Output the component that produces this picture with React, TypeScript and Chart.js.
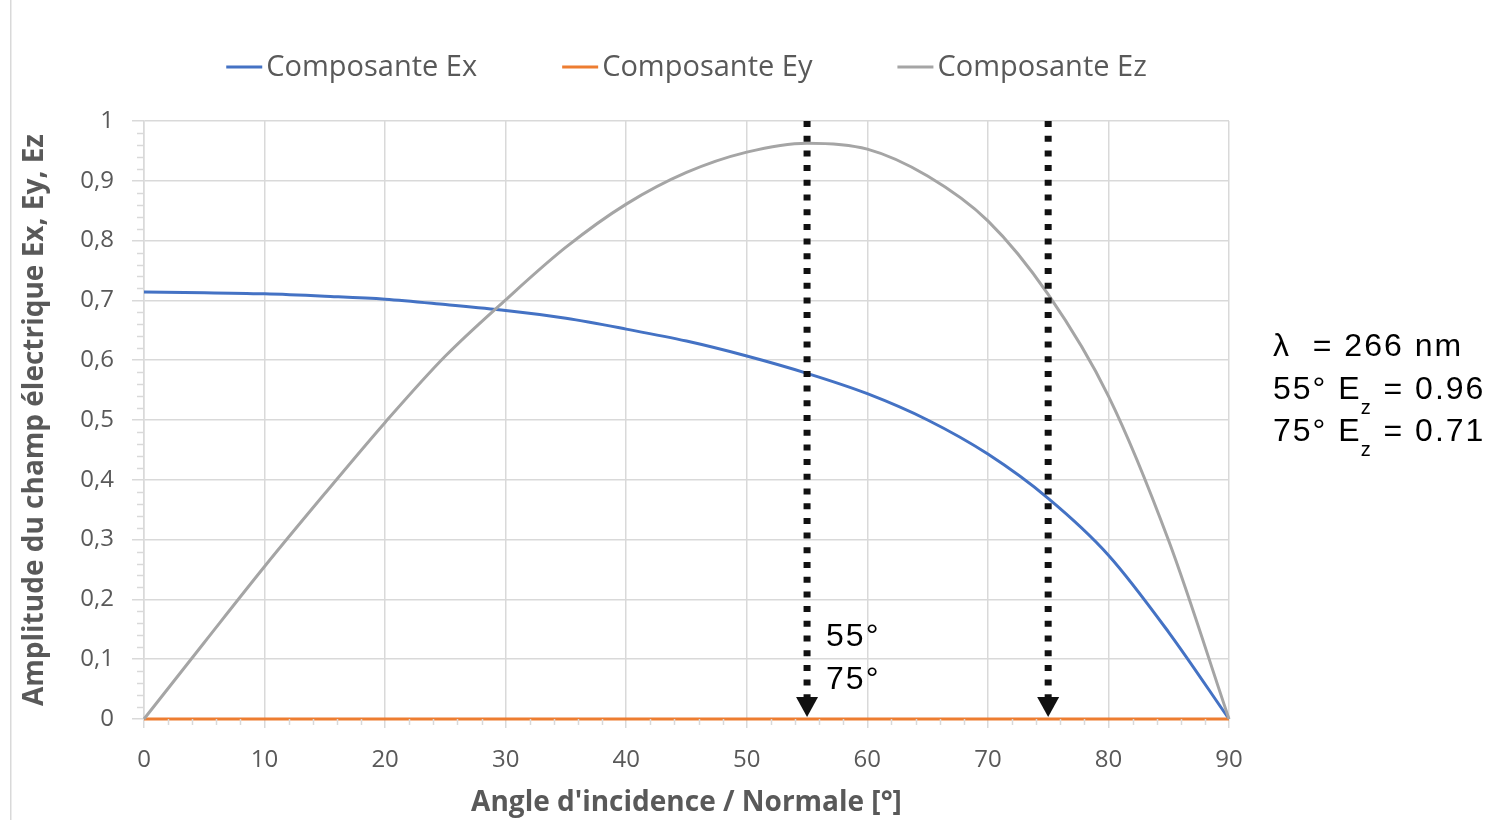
import React, { useEffect, useRef } from 'react';
import { Chart, registerables } from 'chart.js';

Chart.register(...registerables);

// ---- Data ----
const angles = [0, 5, 10, 15, 20, 25, 30, 35, 40, 45, 50, 55, 60, 65, 70, 75, 80, 85, 90];
const compEx = [0.714, 0.713, 0.711, 0.707, 0.702, 0.693, 0.683, 0.670, 0.652, 0.632, 0.607, 0.578, 0.544, 0.500, 0.443, 0.369, 0.274, 0.145, 0];
const compEy = [0, 0, 0, 0, 0, 0, 0, 0, 0, 0, 0, 0, 0, 0, 0, 0, 0, 0, 0];
const compEz = [0, 0.128, 0.255, 0.377, 0.496, 0.607, 0.701, 0.789, 0.861, 0.914, 0.948, 0.963, 0.953, 0.908, 0.833, 0.710, 0.540, 0.298, 0];

const seriesLabels = ['Composante Ex', 'Composante Ey', 'Composante Ez'];
const seriesColors = ['#4472C4', '#ED7D31', '#A5A5A5'];

const xTickLabels = ['0', '10', '20', '30', '40', '50', '60', '70', '80', '90'];
const yTickLabels = ['0', '0,1', '0,2', '0,3', '0,4', '0,5', '0,6', '0,7', '0,8', '0,9', '1'];

const xTitle = "Angle d'incidence / Normale [°]";
const yTitle = 'Amplitude du champ électrique Ex, Ey, Ez';

const arrowAngles = [55, 75];
const arrowLabels = ['55°', '75°'];
const noteLines = ['λ  = 266 nm', '55° E|z| = 0.96', '75° E|z| = 0.71'];

const TEXT = '#595959';
const GRID = '#d9d9d9';
const SANS = "'Open Sans', sans-serif";
const ARIAL = "'Liberation Sans', Arial, sans-serif";

const decorPlugin = {
  id: 'decor',
  beforeDraw(chart: any) {
    const ctx = chart.ctx;
    ctx.save();
    ctx.fillStyle = GRID;
    ctx.fillRect(10, 0, 1.5, chart.height);
    ctx.restore();
  },
  afterDraw(chart: any) {
    const ctx = chart.ctx;
    const ca = chart.chartArea;
    const xs = chart.scales.x;
    const ys = chart.scales.y;
    ctx.save();

    // minor ticks
    ctx.strokeStyle = GRID;
    ctx.lineWidth = 1.5;
    ctx.beginPath();
    for (let k = 1; k < 50; k++) {
      if (k % 5 === 0) continue;
      const py = Math.round(ys.getPixelForValue(k * 0.02)) + 0.5;
      ctx.moveTo(ca.left - 7, py);
      ctx.lineTo(ca.left, py);
    }
    for (let k = 1; k < 45; k++) {
      if (k % 5 === 0) continue;
      const px = Math.round(xs.getPixelForValue(k * 2)) + 0.5;
      ctx.moveTo(px, ca.bottom);
      ctx.lineTo(px, ca.bottom + 6);
    }
    ctx.stroke();

    // legend
    ctx.font = `29px ${SANS}`;
    ctx.textBaseline = 'middle';
    ctx.textAlign = 'left';
    const items = chart.data.datasets.map((d: any) => ({
      label: d.label,
      color: d.borderColor,
      w: ctx.measureText(d.label).width,
    }));
    const lineLen = 36, gap = 4, itemGap = 85;
    const total = items.reduce((s: number, it: any) => s + lineLen + gap + it.w, 0) + itemGap * (items.length - 1);
    let lx = (ca.left + ca.right) / 2 - total / 2;
    const ly = 67;
    items.forEach((it: any) => {
      ctx.strokeStyle = it.color;
      ctx.lineWidth = 3;
      ctx.beginPath();
      ctx.moveTo(lx, ly);
      ctx.lineTo(lx + lineLen, ly);
      ctx.stroke();
      ctx.fillStyle = TEXT;
      ctx.fillText(it.label, lx + lineLen + gap, ly + 1);
      lx += lineLen + gap + it.w + itemGap;
    });

    // arrows
    const yTop = ys.getPixelForValue(1);
    const yTip = ys.getPixelForValue(0) - 2;
    arrowAngles.forEach((a) => {
      const px = xs.getPixelForValue(a);
      ctx.strokeStyle = '#111111';
      ctx.fillStyle = '#111111';
      ctx.lineWidth = 7;
      ctx.lineCap = 'butt';
      ctx.setLineDash([6, 8.7]);
      ctx.beginPath();
      ctx.moveTo(px, yTop);
      ctx.lineTo(px, yTip - 20);
      ctx.stroke();
      ctx.setLineDash([]);
      ctx.beginPath();
      ctx.moveTo(px - 11, yTip - 20);
      ctx.lineTo(px + 11, yTip - 20);
      ctx.lineTo(px, yTip);
      ctx.closePath();
      ctx.fill();
    });

    // arrow labels
    ctx.fillStyle = '#000000';
    ctx.font = `32px ${ARIAL}`;
    (ctx as any).letterSpacing = '2px';
    ctx.textBaseline = 'alphabetic';
    const lx0 = xs.getPixelForValue(arrowAngles[0]) + 19;
    ctx.fillText(arrowLabels[0], lx0, ca.bottom - 73);
    ctx.fillText(arrowLabels[1], lx0, ca.bottom - 30);

    // side note
    const nx = ca.right + 44;
    const baselines = [356, 399, 441];
    noteLines.forEach((line, i) => {
      const parts = line.split('|');
      let x = nx;
      ctx.font = `32px ${ARIAL}`;
      (ctx as any).letterSpacing = '2px';
      ctx.fillText(parts[0], x, baselines[i]);
      x += ctx.measureText(parts[0]).width;
      if (parts.length > 1) {
        ctx.font = `20px ${ARIAL}`;
        (ctx as any).letterSpacing = '0px';
        ctx.fillText(parts[1], x - 1, baselines[i] + 15);
        x += ctx.measureText(parts[1]).width + 1;
        ctx.font = `32px ${ARIAL}`;
        (ctx as any).letterSpacing = '2px';
        ctx.fillText(parts[2], x, baselines[i]);
      }
    });
    (ctx as any).letterSpacing = '0px';

    ctx.restore();
  },
};

export default function App() {
  const canvasRef = useRef<HTMLCanvasElement | null>(null);

  useEffect(() => {
    if (!canvasRef.current) return;
    const values = [compEx, compEy, compEz];
    const chart = new Chart(canvasRef.current, {
      type: 'line',
      data: {
        datasets: values.map((arr, i) => ({
          label: seriesLabels[i],
          data: angles.map((a, j) => ({ x: a, y: arr[j] })),
          borderColor: seriesColors[i],
          backgroundColor: seriesColors[i],
          borderWidth: 3,
          pointRadius: 0,
          cubicInterpolationMode: 'monotone' as const,
          fill: false,
          clip: 6,
          order: 3 - i,
        })),
      },
      options: {
        responsive: true,
        maintainAspectRatio: false,
        animation: false,
        layout: { padding: { left: 10, right: 260, top: 121, bottom: 0 } },
        plugins: {
          legend: { display: false },
          tooltip: { enabled: false },
        },
        scales: {
          x: {
            type: 'linear',
            min: 0,
            max: 90,
            ticks: {
              stepSize: 10,
              autoSkip: false,
              maxRotation: 0,
              color: TEXT,
              padding: 18,
              font: { family: SANS, size: 24 },
              callback: (v: any, i: number) => xTickLabels[i],
            },
            grid: { color: GRID, lineWidth: 1.5, tickLength: 9 },
            border: { color: GRID, width: 1.5 },
            title: {
              display: true,
              text: xTitle,
              color: TEXT,
              font: { family: SANS, size: 28, weight: 'bold' },
              padding: { top: 0, bottom: 0 },
            },
            afterFit: (s: any) => { s.height = 101; },
          },
          y: {
            type: 'linear',
            min: 0,
            max: 1,
            ticks: {
              stepSize: 0.1,
              color: TEXT,
              padding: 18,
              font: { family: SANS, size: 24 },
              callback: (v: any, i: number) => yTickLabels[i],
            },
            grid: { color: GRID, lineWidth: 1.5, tickLength: 12 },
            border: { color: GRID, width: 1.5 },
            title: {
              display: true,
              text: yTitle,
              color: TEXT,
              font: { family: SANS, size: 28, weight: 'bold' },
              padding: { top: 8, bottom: 0 },
            },
            afterFit: (s: any) => { s.width = 134; },
          },
        },
      },
      plugins: [decorPlugin],
    });
    return () => chart.destroy();
  }, []);

  return (
    <div style={{ position: 'fixed', left: 0, top: 0, width: 1489, height: 820, background: '#ffffff' }}>
      <canvas ref={canvasRef} />
    </div>
  );
}
